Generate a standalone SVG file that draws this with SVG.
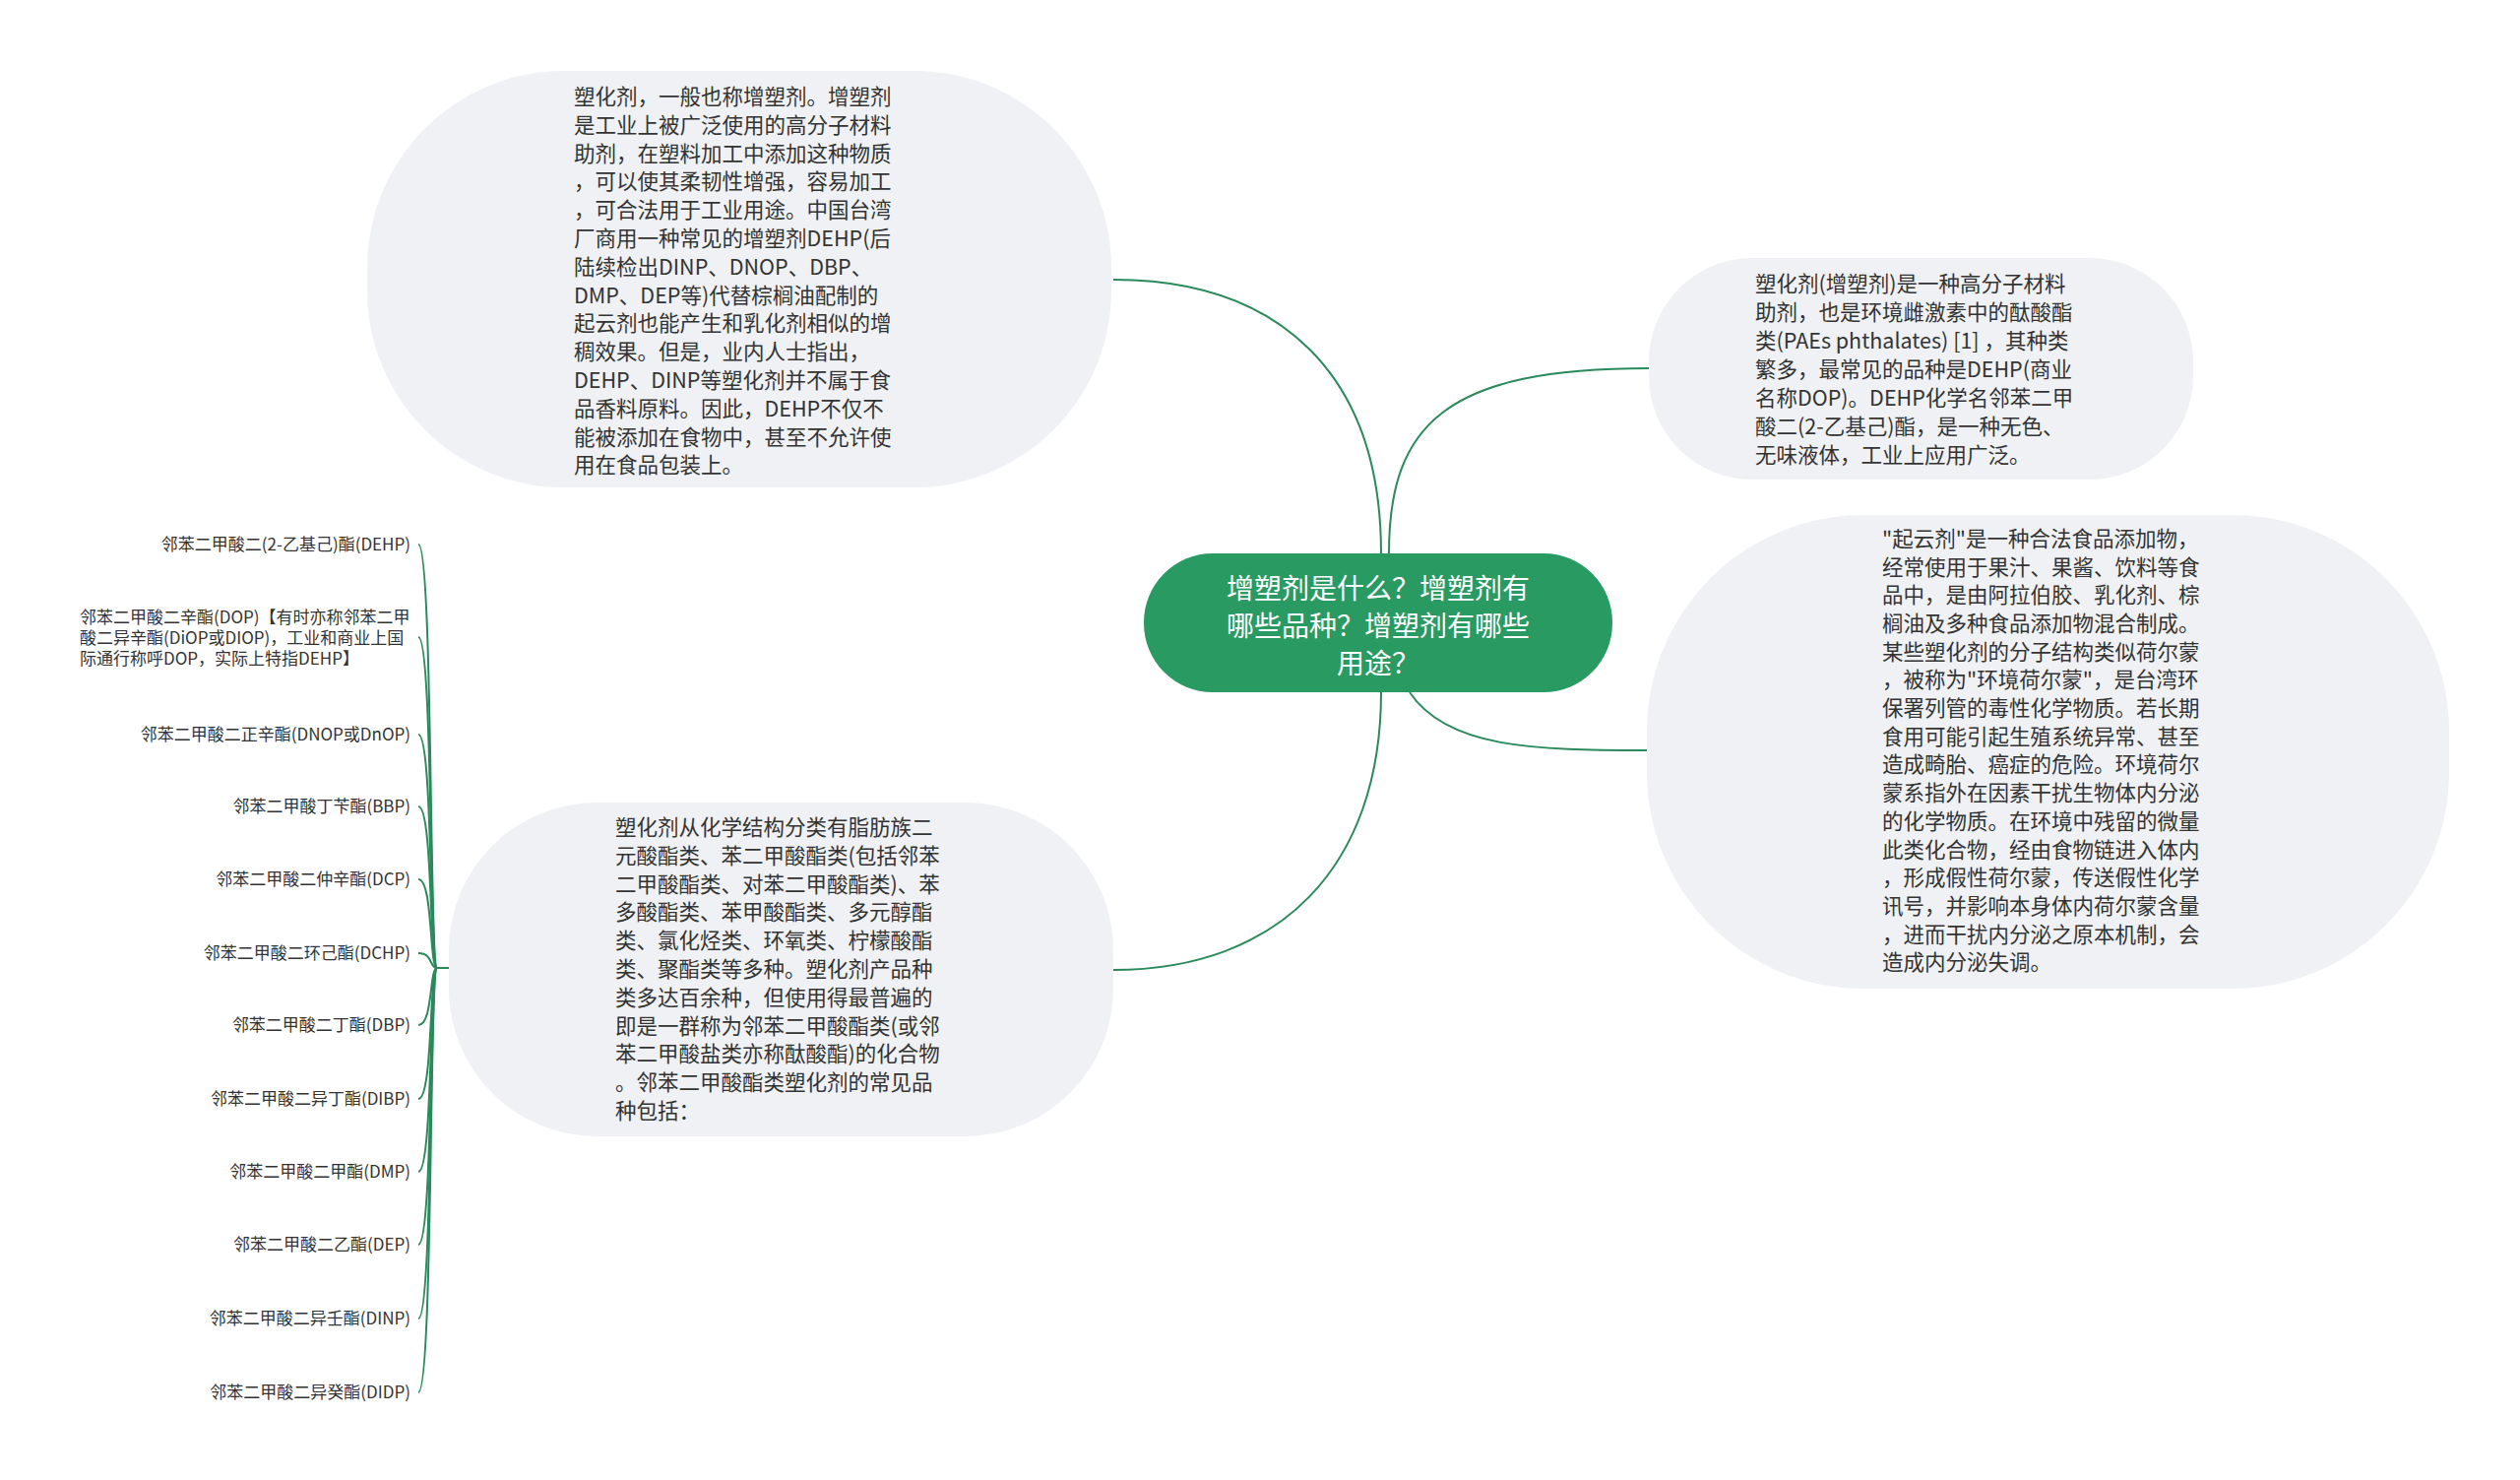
<svg xmlns="http://www.w3.org/2000/svg" width="2560" height="1503" viewBox="0 0 2560 1503">
<style>
.node{fill:#eff1f4;}
.t{font-family:"Noto Sans CJK SC","Liberation Sans",sans-serif;font-size:21.5px;fill:#333333;}
.s{font-family:"Noto Sans CJK SC","Liberation Sans",sans-serif;font-size:17px;fill:#333333;}
.c{font-family:"Noto Sans CJK SC","Liberation Sans",sans-serif;font-size:28px;fill:#ffffff;text-anchor:middle;}
.e{fill:none;stroke:#2a8a5c;stroke-width:2;}
</style>
<rect width="2560" height="1503" fill="#ffffff"/>
<g id="connectors">
<path class="e" d="M1403 562 C1403 380 1300 284 1131 284"/>
<path class="e" d="M1411 562 C1411 430 1470 374 1675 374"/>
<path class="e" d="M1432 703 C1470 760 1560 762 1673 762"/>
<path class="e" d="M1403 703 C1403 880 1300 985 1131 985"/>
<path class="e" d="M456 983 L444 983"/>
<path class="e" d="M444 983 C436 983 440 553 425 553"/>
<path class="e" d="M444 983 C436 983 440 647 425 647"/>
<path class="e" d="M444 983 C436 983 440 746 425 746"/>
<path class="e" d="M444 983 C436 983 440 819 425 819"/>
<path class="e" d="M444 983 C436 983 440 893 425 893"/>
<path class="e" d="M444 983 C436 983 440 968 425 968"/>
<path class="e" d="M444 983 C436 983 440 1041 425 1041"/>
<path class="e" d="M444 983 C436 983 440 1116 425 1116"/>
<path class="e" d="M444 983 C436 983 440 1190 425 1190"/>
<path class="e" d="M444 983 C436 983 440 1264 425 1264"/>
<path class="e" d="M444 983 C436 983 440 1339 425 1339"/>
<path class="e" d="M444 983 C436 983 440 1414 425 1414"/>
</g>
<g id="center">
<rect x="1162" y="562" width="476" height="141" rx="70" ry="70" fill="#2a9a63"/>
<text class="c" x="1400" y="608">增塑剂是什么？增塑剂有</text>
<text class="c" x="1400" y="646">哪些品种？增塑剂有哪些</text>
<text class="c" x="1400" y="684">用途？</text>
</g>
<g id="node-top-left">
<rect class="node" x="373" y="72" width="756" height="423" rx="200" ry="200"/>
<text class="t" x="583" y="106">塑化剂，一般也称增塑剂。增塑剂</text>
<text class="t" x="583" y="135">是工业上被广泛使用的高分子材料</text>
<text class="t" x="583" y="164">助剂，在塑料加工中添加这种物质</text>
<text class="t" x="583" y="192">，可以使其柔韧性增强，容易加工</text>
<text class="t" x="583" y="221">，可合法用于工业用途。中国台湾</text>
<text class="t" x="583" y="250">厂商用一种常见的增塑剂DEHP(后</text>
<text class="t" x="583" y="279">陆续检出DINP、DNOP、DBP、</text>
<text class="t" x="583" y="308">DMP、DEP等)代替棕榈油配制的</text>
<text class="t" x="583" y="336">起云剂也能产生和乳化剂相似的增</text>
<text class="t" x="583" y="365">稠效果。但是，业内人士指出，</text>
<text class="t" x="583" y="394">DEHP、DINP等塑化剂并不属于食</text>
<text class="t" x="583" y="423">品香料原料。因此，DEHP不仅不</text>
<text class="t" x="583" y="452">能被添加在食物中，甚至不允许使</text>
<text class="t" x="583" y="480">用在食品包装上。</text>
</g>
<g id="node-top-right">
<rect class="node" x="1675" y="262" width="553" height="225" rx="105" ry="105"/>
<text class="t" x="1783" y="296">塑化剂(增塑剂)是一种高分子材料</text>
<text class="t" x="1783" y="325">助剂，也是环境雌激素中的酞酸酯</text>
<text class="t" x="1783" y="354">类(PAEs phthalates) [1] ，其种类</text>
<text class="t" x="1783" y="383">繁多，最常见的品种是DEHP(商业</text>
<text class="t" x="1783" y="412">名称DOP)。DEHP化学名邻苯二甲</text>
<text class="t" x="1783" y="441">酸二(2-乙基己)酯，是一种无色、</text>
<text class="t" x="1783" y="470">无味液体，工业上应用广泛。</text>
</g>
<g id="node-right">
<rect class="node" x="1673" y="523" width="815" height="481" rx="220" ry="220"/>
<text class="t" x="1912" y="555">"起云剂"是一种合法食品添加物，</text>
<text class="t" x="1912" y="584">经常使用于果汁、果酱、饮料等食</text>
<text class="t" x="1912" y="612">品中，是由阿拉伯胶、乳化剂、棕</text>
<text class="t" x="1912" y="641">榈油及多种食品添加物混合制成。</text>
<text class="t" x="1912" y="670">某些塑化剂的分子结构类似荷尔蒙</text>
<text class="t" x="1912" y="698">，被称为"环境荷尔蒙"，是台湾环</text>
<text class="t" x="1912" y="727">保署列管的毒性化学物质。若长期</text>
<text class="t" x="1912" y="756">食用可能引起生殖系统异常、甚至</text>
<text class="t" x="1912" y="784">造成畸胎、癌症的危险。环境荷尔</text>
<text class="t" x="1912" y="813">蒙系指外在因素干扰生物体内分泌</text>
<text class="t" x="1912" y="842">的化学物质。在环境中残留的微量</text>
<text class="t" x="1912" y="871">此类化合物，经由食物链进入体内</text>
<text class="t" x="1912" y="899">，形成假性荷尔蒙，传送假性化学</text>
<text class="t" x="1912" y="928">讯号，并影响本身体内荷尔蒙含量</text>
<text class="t" x="1912" y="957">，进而干扰内分泌之原本机制，会</text>
<text class="t" x="1912" y="985">造成内分泌失调。</text>
</g>
<g id="node-mid-left">
<rect class="node" x="456" y="815" width="675" height="339" rx="150" ry="150"/>
<text class="t" x="625" y="848">塑化剂从化学结构分类有脂肪族二</text>
<text class="t" x="625" y="877">元酸酯类、苯二甲酸酯类(包括邻苯</text>
<text class="t" x="625" y="906">二甲酸酯类、对苯二甲酸酯类)、苯</text>
<text class="t" x="625" y="934">多酸酯类、苯甲酸酯类、多元醇酯</text>
<text class="t" x="625" y="963">类、氯化烃类、环氧类、柠檬酸酯</text>
<text class="t" x="625" y="992">类、聚酯类等多种。塑化剂产品种</text>
<text class="t" x="625" y="1021">类多达百余种，但使用得最普遍的</text>
<text class="t" x="625" y="1050">即是一群称为邻苯二甲酸酯类(或邻</text>
<text class="t" x="625" y="1078">苯二甲酸盐类亦称酞酸酯)的化合物</text>
<text class="t" x="625" y="1107">。邻苯二甲酸酯类塑化剂的常见品</text>
<text class="t" x="625" y="1136">种包括：</text>
</g>
<g id="leaf-dehp"><text class="s" x="417" y="559" text-anchor="end">邻苯二甲酸二(2-乙基己)酯(DEHP)</text></g>
<g id="leaf-dop">
<text class="s" x="81" y="633">邻苯二甲酸二辛酯(DOP)【有时亦称邻苯二甲</text>
<text class="s" x="81" y="654">酸二异辛酯(DiOP或DIOP)，工业和商业上国</text>
<text class="s" x="81" y="675">际通行称呼DOP，实际上特指DEHP】</text>
</g>
<g id="leaf-dnop"><text class="s" x="417" y="752" text-anchor="end">邻苯二甲酸二正辛酯(DNOP或DnOP)</text></g>
<g id="leaf-bbp"><text class="s" x="417" y="825" text-anchor="end">邻苯二甲酸丁苄酯(BBP)</text></g>
<g id="leaf-dcp"><text class="s" x="417" y="899" text-anchor="end">邻苯二甲酸二仲辛酯(DCP)</text></g>
<g id="leaf-dchp"><text class="s" x="417" y="974" text-anchor="end">邻苯二甲酸二环己酯(DCHP)</text></g>
<g id="leaf-dbp"><text class="s" x="417" y="1047" text-anchor="end">邻苯二甲酸二丁酯(DBP)</text></g>
<g id="leaf-dibp"><text class="s" x="417" y="1122" text-anchor="end">邻苯二甲酸二异丁酯(DIBP)</text></g>
<g id="leaf-dmp"><text class="s" x="417" y="1196" text-anchor="end">邻苯二甲酸二甲酯(DMP)</text></g>
<g id="leaf-dep"><text class="s" x="417" y="1270" text-anchor="end">邻苯二甲酸二乙酯(DEP)</text></g>
<g id="leaf-dinp"><text class="s" x="417" y="1345" text-anchor="end">邻苯二甲酸二异壬酯(DINP)</text></g>
<g id="leaf-didp"><text class="s" x="417" y="1420" text-anchor="end">邻苯二甲酸二异癸酯(DIDP)</text></g>
</svg>
